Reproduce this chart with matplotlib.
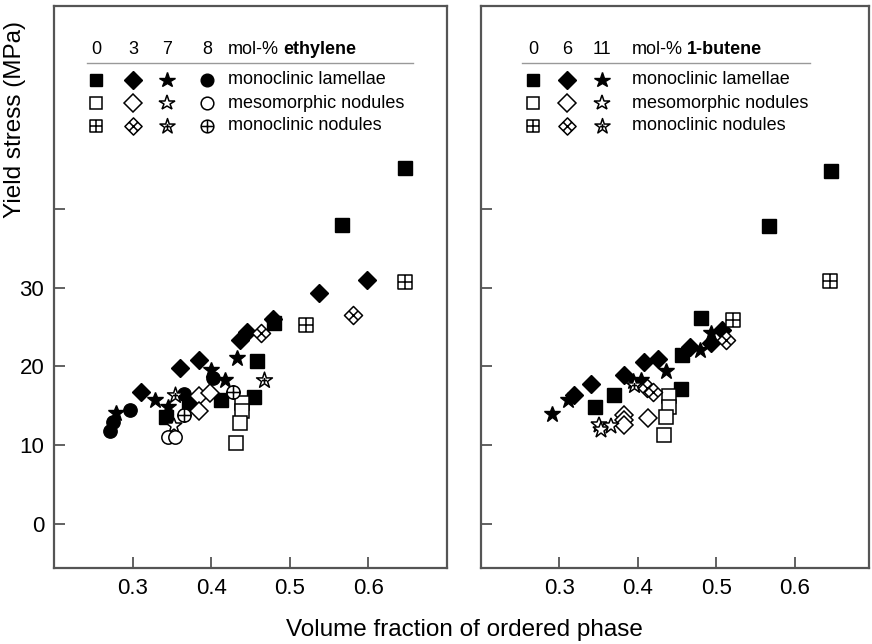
import numpy as np
import matplotlib
matplotlib.use("Agg")
import matplotlib.pyplot as plt
from matplotlib.path import Path
from matplotlib.lines import Line2D

plt.rcParams['font.family'] = ['Liberation Sans', 'DejaVu Sans']

# ---------------- data: ethylene copolymers (left panel) ----------------
# monoclinic lamellae (filled)
eth0_lam_x = [0.343, 0.372, 0.412, 0.454, 0.458, 0.480, 0.566, 0.646]
eth0_lam_y = [13.6, 15.3, 15.8, 16.1, 20.7, 25.5, 38.0, 45.2]
eth3_lam_x = [0.311, 0.360, 0.385, 0.437, 0.445, 0.478, 0.537, 0.598]
eth3_lam_y = [16.8, 19.8, 20.8, 23.4, 24.4, 26.0, 29.4, 31.0]
eth7_lam_x = [0.279, 0.329, 0.345, 0.400, 0.418, 0.433]
eth7_lam_y = [14.1, 15.8, 14.9, 19.6, 18.3, 21.1]
eth8_lam_x = [0.271, 0.275, 0.297, 0.365, 0.402]
eth8_lam_y = [11.8, 13.0, 14.5, 16.5, 18.5]
# mesomorphic nodules (open)
eth0_mes_x = [0.439, 0.439, 0.437, 0.432]
eth0_mes_y = [15.3, 14.3, 12.8, 10.3]
eth3_mes_x = [0.385, 0.398, 0.385]
eth3_mes_y = [16.2, 16.6, 14.3]
eth7_mes_x = [0.353]
eth7_mes_y = [12.4]
eth8_mes_x = [0.345, 0.354]
eth8_mes_y = [11.1, 11.1]
# monoclinic nodules (crossed)
eth0_nod_x = [0.521, 0.646]
eth0_nod_y = [25.3, 30.7]
eth3_nod_x = [0.463, 0.581]
eth3_nod_y = [24.2, 26.6]
eth7_nod_x = [0.354, 0.467]
eth7_nod_y = [16.4, 18.3]
eth8_nod_x = [0.366, 0.428]
eth8_nod_y = [13.9, 16.8]

# ---------------- data: 1-butene copolymers (right panel) ----------------
but0_lam_x = [0.345, 0.370, 0.455, 0.457, 0.481, 0.567, 0.646]
but0_lam_y = [14.9, 16.4, 17.2, 21.5, 26.1, 37.9, 44.9]
but6_lam_x = [0.319, 0.340, 0.383, 0.408, 0.426, 0.466, 0.494, 0.508]
but6_lam_y = [16.4, 17.8, 18.9, 20.6, 21.0, 22.5, 23.0, 24.7]
but11_lam_x = [0.290, 0.311, 0.394, 0.404, 0.436, 0.479, 0.494]
but11_lam_y = [14.0, 15.8, 18.1, 18.3, 19.4, 22.1, 24.2]
but0_mes_x = [0.440, 0.440, 0.436, 0.433]
but0_mes_y = [16.2, 14.9, 13.6, 11.3]
but6_mes_x = [0.383, 0.383, 0.383, 0.413]
but6_mes_y = [13.9, 13.2, 12.6, 13.4]
but11_mes_x = [0.351, 0.353, 0.366]
but11_mes_y = [12.6, 11.9, 12.4]
but0_nod_x = [0.521, 0.645]
but0_nod_y = [25.9, 30.9]
but6_nod_x = [0.412, 0.419, 0.513]
but6_nod_y = [17.3, 16.8, 23.4]
but11_nod_x = [0.395]
but11_nod_y = [17.7]

eth_levels = ['0', '3', '7', '8']
but_levels = ['0', '6', '11']
row_labels = ['monoclinic lamellae', 'mesomorphic nodules', 'monoclinic nodules']
x_ticks = [0.3, 0.4, 0.5, 0.6]
y_ticks = [0, 10, 20, 30, 40]
y_ticklabels = ['0', '10', '20', '30', '']

# ---------------- custom marker paths ----------------
M, L, C = Path.MOVETO, Path.LINETO, Path.CLOSEPOLY
box_plus = Path([(-1, -1), (1, -1), (1, 1), (-1, 1), (-1, -1),
                 (0, -1), (0, 1), (-1, 0), (1, 0)],
                [M, L, L, L, C, M, L, M, L])
dia_cross = Path([(0, -1), (1, 0), (0, 1), (-1, 0), (0, -1),
                  (0.5, -0.5), (-0.5, 0.5), (-0.5, -0.5), (0.5, 0.5)],
                 [M, L, L, L, C, M, L, M, L])
circ_plus = Path.make_compound_path(
    Path.unit_circle(),
    Path([(0, -1), (0, 1)], [M, L]),
    Path([(-1, 0), (1, 0)], [M, L]))
star = Path.unit_regular_star(5, 0.381966)
star_cross = Path.make_compound_path(
    star,
    Path([(0, -0.3), (0, 0.3)], [M, L]),
    Path([(-0.3, 0), (0.3, 0)], [M, L]))

SQ, DI, ST, CI = 'sq', 'di', 'st', 'ci'
base_ms = {SQ: 9.4, DI: 9.2, ST: 12.0, CI: 9.6}


def style(shape, kind):
    if kind == 'lam':
        mk = {SQ: 's', DI: 'D', ST: '*', CI: 'o'}[shape]
        return dict(marker=mk, ms=base_ms[shape], mfc='black', mec='black', mew=1.0)
    if kind == 'mes':
        mk = {SQ: 's', DI: 'D', ST: '*', CI: 'o'}[shape]
        return dict(marker=mk, ms=base_ms[shape], mfc='white', mec='black', mew=1.1)
    mk = {SQ: box_plus, DI: dia_cross, ST: star_cross, CI: circ_plus}[shape]
    ms = base_ms[shape] * (1.414 if shape == DI else 1.0)
    return dict(marker=mk, ms=ms, mfc='white', mec='black', mew=1.1)


W, H = 872, 644
fig = plt.figure(figsize=(W / 100, H / 100), dpi=100)


def fx(x):
    return x / W


def fy(y):
    return 1 - y / H


spine_col = '#555555'
axL = fig.add_axes([fx(54), fy(568), (447 - 54) / W, (568 - 6) / H])
axR = fig.add_axes([fx(481), fy(568), (869 - 481) / W, (568 - 6) / H])

for ax, xmax in ((axL, 0.70), (axR, 0.695)):
    ax.set_xlim(0.2, xmax)
    ax.set_ylim(-5.6, 65.8)
    ax.set_xticks(x_ticks)
    ax.set_xticklabels([f'{v:.1f}' for v in x_ticks])
    ax.set_yticks(y_ticks)
    for s in ax.spines.values():
        s.set_color(spine_col)
        s.set_linewidth(1.6)
    ax.tick_params(direction='in', length=8, width=1.3, color=spine_col,
                   labelsize=16, pad=7)
axL.set_yticklabels(y_ticklabels)
axR.set_yticklabels([])

eth_series = [
    (SQ, 'lam', eth0_lam_x, eth0_lam_y), (DI, 'lam', eth3_lam_x, eth3_lam_y),
    (ST, 'lam', eth7_lam_x, eth7_lam_y), (CI, 'lam', eth8_lam_x, eth8_lam_y),
    (SQ, 'mes', eth0_mes_x, eth0_mes_y), (DI, 'mes', eth3_mes_x, eth3_mes_y),
    (ST, 'mes', eth7_mes_x, eth7_mes_y), (CI, 'mes', eth8_mes_x, eth8_mes_y),
    (SQ, 'nod', eth0_nod_x, eth0_nod_y), (DI, 'nod', eth3_nod_x, eth3_nod_y),
    (ST, 'nod', eth7_nod_x, eth7_nod_y), (CI, 'nod', eth8_nod_x, eth8_nod_y),
]
but_series = [
    (SQ, 'lam', but0_lam_x, but0_lam_y), (DI, 'lam', but6_lam_x, but6_lam_y),
    (ST, 'lam', but11_lam_x, but11_lam_y),
    (SQ, 'mes', but0_mes_x, but0_mes_y), (DI, 'mes', but6_mes_x, but6_mes_y),
    (ST, 'mes', but11_mes_x, but11_mes_y),
    (SQ, 'nod', but0_nod_x, but0_nod_y), (DI, 'nod', but6_nod_x, but6_nod_y),
    (ST, 'nod', but11_nod_x, but11_nod_y),
]
for ax, series in ((axL, eth_series), (axR, but_series)):
    for shape, kind, xs, ys in series:
        ax.plot(xs, ys, ls='none', **style(shape, kind))

renderer = fig.canvas.get_renderer()


def legend(levels, shapes, xs_px, text_x, line_x0, line_x1, bold_word):
    hy = 50
    for lev, x in zip(levels, xs_px):
        fig.text(fx(x), fy(hy), lev, ha='center', va='center', fontsize=13)
    t1 = fig.text(fx(text_x), fy(hy), 'mol-%', ha='left', va='center', fontsize=13)
    bb = t1.get_window_extent(renderer=renderer)
    fig.text(fx(bb.x1 + 4), fy(hy), bold_word, ha='left', va='center',
             fontsize=13, fontweight='bold')
    fig.add_artist(Line2D([fx(line_x0), fx(line_x1)], [fy(63), fy(63)],
                          color='#999999', lw=1.0, transform=fig.transFigure))
    for kind, ry, lab in zip(['lam', 'mes', 'nod'], [80, 103, 126], row_labels):
        for shape, x in zip(shapes, xs_px):
            st = style(shape, kind)
            st['ms'] = st['ms'] * 0.95
            fig.add_artist(Line2D([fx(x)], [fy(ry)], transform=fig.transFigure,
                                  ls='none', **st))
        fig.text(fx(text_x), fy(ry), lab, ha='left', va='center', fontsize=13)


legend(eth_levels, [SQ, DI, ST, CI], [96, 133, 167, 207], 228, 87, 413, 'ethylene')
legend(but_levels, [SQ, DI, ST], [533, 567, 602], 632, 522, 810, '1-butene')

fig.text(fx(15), fy(120), 'Yield stress (MPa)', rotation=90, ha='center',
         va='center', fontsize=17.5)
fig.text(fx(464), fy(630), 'Volume fraction of ordered phase', ha='center',
         va='center', fontsize=17.5)

fig.savefig('out.png', dpi=100)
